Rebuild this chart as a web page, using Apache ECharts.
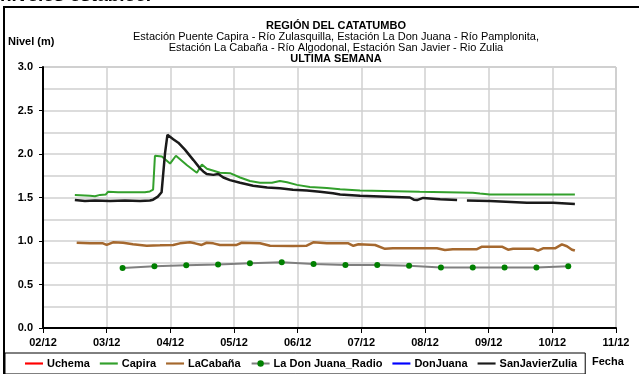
<!DOCTYPE html>
<html>
<head>
<meta charset="utf-8">
<script src="https://cdn.jsdelivr.net/npm/echarts@6/dist/echarts.min.js"></script>
<style>
  html, body { margin: 0; padding: 0; background: #fff; }
  #chart { width: 639px; height: 374px; }
</style>
</head>
<body>
<div id="chart"></div>
<script>
// Hours are counted from 02/12 00:00; levels are metres.
const dayLabels = ['02/12', '03/12', '04/12', '05/12', '06/12', '07/12', '08/12', '09/12', '10/12', '11/12'];
const levelTicks = [0, 0.5, 1.0, 1.5, 2.0, 2.5, 3.0];

const uchemaHours = [];
const uchemaLevels = [];

const capiraHours = [12, 17.7, 19.6, 21.5, 23.7, 24.5, 28.3, 38.4, 40.3, 41.5, 42.2, 44.8, 47.9, 50.1, 54.3, 58, 59.9, 61.8, 64, 66.7, 70.5, 74.3, 78, 81.8, 86.3, 89.3, 92, 95.7, 100.6, 107, 112, 119.5, 142, 162, 164.7, 168.5, 200.5];
const capiraLevels = [1.53, 1.52, 1.515, 1.53, 1.535, 1.565, 1.56, 1.56, 1.57, 1.59, 1.98, 1.97, 1.89, 1.98, 1.87, 1.785, 1.88, 1.83, 1.81, 1.785, 1.78, 1.73, 1.69, 1.67, 1.67, 1.69, 1.675, 1.645, 1.62, 1.61, 1.595, 1.58, 1.565, 1.555, 1.545, 1.535, 1.535];

const cabanaHours = [12.7, 17.7, 22.6, 24, 26.4, 30.2, 33.9, 39.1, 44.1, 49.1, 51.6, 55.4, 57.3, 59.8, 61.7, 64.2, 66.7, 73, 74.9, 81.8, 85.6, 94.2, 99.4, 101.9, 107, 115.1, 117, 118.9, 125.2, 128.9, 131.9, 148.5, 151.5, 154.5, 163.6, 165.5, 173, 175.3, 177.2, 184.7, 186.6, 188.5, 193, 195.6, 197.5, 199.4, 200.5];
const cabanaLevels = [0.98, 0.975, 0.973, 0.955, 0.985, 0.98, 0.962, 0.946, 0.95, 0.955, 0.973, 0.985, 0.973, 0.955, 0.98, 0.973, 0.955, 0.955, 0.98, 0.975, 0.946, 0.943, 0.946, 0.985, 0.975, 0.973, 0.945, 0.962, 0.954, 0.91, 0.916, 0.916, 0.897, 0.906, 0.906, 0.935, 0.935, 0.9, 0.912, 0.912, 0.89, 0.916, 0.916, 0.962, 0.94, 0.9, 0.89];

const radioHours = [30, 42, 54, 66, 78, 90, 102, 114, 126, 138, 150, 162, 174, 186, 198];
const radioLevels = [0.69, 0.71, 0.72, 0.73, 0.745, 0.755, 0.735, 0.725, 0.725, 0.715, 0.695, 0.695, 0.695, 0.695, 0.71];

const donJuanaHours = [];
const donJuanaLevels = [];

// null marks the hours with no reading at San Javier
const sanJavierHours = [12, 15.8, 19.6, 25.3, 30.9, 36.6, 40.3, 41.5, 43.3, 44.7, 46, 46.9, 47.6, 49.1, 51, 53.5, 56.7, 59.2, 60.4, 61.7, 64.2, 66.1, 68, 70.5, 74.3, 79.2, 84.5, 89.3, 94.2, 99.5, 104.4, 109.3, 112, 119.5, 129.7, 138.3, 139.8, 141, 143.3, 149.7, 156.1, 158, 159.8, 168.5, 182.4, 192.3, 200.5];
const sanJavierLevels = [1.47, 1.46, 1.465, 1.46, 1.465, 1.46, 1.465, 1.475, 1.51, 1.56, 2.01, 2.22, 2.24, 2.17, 2.13, 2.05, 1.93, 1.835, 1.80, 1.77, 1.76, 1.77, 1.73, 1.70, 1.67, 1.635, 1.615, 1.605, 1.59, 1.58, 1.565, 1.55, 1.535, 1.52, 1.51, 1.50, 1.475, 1.47, 1.495, 1.48, 1.47, null, 1.465, 1.46, 1.44, 1.44, 1.425];

function pairs(hours, levels) {
  return hours.map((h, i) => [h, levels[i] === null ? '-' : levels[i]]);
}

const FONT = 'Liberation Sans, Arial, sans-serif';
const LINE_ICON = 'path://M0,0H20V2.4H0Z';

const chart = echarts.init(document.getElementById('chart'), null, { renderer: 'canvas' });

function lineSeries(name, hours, levels, color, width) {
  return {
    name: name,
    type: 'line',
    data: pairs(hours, levels),
    symbol: 'none',
    connectNulls: false,
    lineStyle: { color: color, width: width },
    itemStyle: { color: color },
    animation: false
  };
}

chart.setOption({
  animation: false,
  backgroundColor: '#fff',
  title: [
    { text: 'REGIÓN DEL CATATUMBO', left: 331, top: 15, textAlign: 'center',
      textStyle: { fontFamily: FONT, fontSize: 11, fontWeight: 'bold', color: '#000' } },
    { text: 'Estación Puente Capira - Río Zulasquilla, Estación La Don Juana - Río Pamplonita,', left: 331, top: 26, textAlign: 'center',
      textStyle: { fontFamily: FONT, fontSize: 11, fontWeight: 'normal', color: '#000' } },
    { text: 'Estación La Cabaña - Río Algodonal, Estación San Javier - Rio Zulia', left: 331, top: 37, textAlign: 'center',
      textStyle: { fontFamily: FONT, fontSize: 11, fontWeight: 'normal', color: '#000' } },
    { text: 'ULTIMA SEMANA', left: 331, top: 48, textAlign: 'center',
      textStyle: { fontFamily: FONT, fontSize: 11, fontWeight: 'bold', color: '#000' } }
  ],
  graphic: [
    { type: 'text', left: 0, top: -14, style: { text: 'niveles establec.', font: 'bold 19px ' + FONT, fill: '#000' } },
    { type: 'rect', shape: { x: 4, y: 7, width: 660, height: 400 }, style: { fill: 'none', stroke: '#000', lineWidth: 2 }, silent: true },
    { type: 'text', left: 8, top: 36, style: { text: 'Nivel (m)', font: 'bold 11px ' + FONT, fill: '#000' } },
    { type: 'text', left: 592, top: 356, style: { text: 'Fecha', font: 'bold 11px ' + FONT, fill: '#000' } }
  ],
  grid: {
    left: 43, right: 23, top: 67, bottom: 46,
    show: true, borderColor: '#a0a0a0', borderWidth: 1, backgroundColor: 'transparent'
  },
  legend: {
    left: 5, top: 353,
    itemWidth: 18, itemHeight: 8, itemGap: 10,
    padding: [5, 8, 5, 20],
    borderColor: '#000', borderWidth: 1,
    textStyle: { fontFamily: FONT, fontSize: 11, fontWeight: 'bold', color: '#000', padding: [0, 0, 0, -1] },
    data: [
      { name: 'Uchema', icon: LINE_ICON },
      { name: 'Capira', icon: LINE_ICON },
      { name: 'LaCabaña', icon: LINE_ICON },
      { name: 'La Don Juana_Radio', lineStyle: { color: '#7f7f7f', width: 2 } },
      { name: 'DonJuana', icon: LINE_ICON },
      { name: 'SanJavierZulia', icon: LINE_ICON }
    ]
  },
  xAxis: {
    type: 'value', min: 0, max: 216, interval: 24,
    axisLine: { lineStyle: { color: '#000', width: 2 } },
    axisTick: { show: true, length: 5, lineStyle: { color: '#000', width: 1 } },
    axisLabel: {
      margin: 9, fontFamily: FONT, fontSize: 11, fontWeight: 'bold', color: '#000',
      formatter: v => dayLabels[Math.round(v / 24)]
    },
    splitLine: { show: true, lineStyle: { color: '#d0d0d0', width: 1.5 } }
  },
  yAxis: {
    type: 'value', min: levelTicks[0], max: levelTicks[levelTicks.length - 1], interval: 0.5,
    axisLine: { show: true, lineStyle: { color: '#000', width: 2 } },
    axisTick: { show: true, length: 4, lineStyle: { color: '#000', width: 1 } },
    axisLabel: {
      margin: 10, fontFamily: FONT, fontSize: 11, fontWeight: 'bold', color: '#000',
      formatter: v => v.toFixed(1)
    },
    splitLine: { show: true, lineStyle: { color: '#d0d0d0', width: 1.5 } },
    minorTick: { show: false, splitNumber: 2 },
    minorSplitLine: { show: true, lineStyle: { color: '#d0d0d0', width: 1.5 } }
  },
  series: [
    lineSeries('Uchema', uchemaHours, uchemaLevels, '#ff0000', 1.5),
    lineSeries('Capira', capiraHours, capiraLevels, '#33a02c', 2),
    lineSeries('LaCabaña', cabanaHours, cabanaLevels, '#a5682e', 2.5),
    {
      name: 'La Don Juana_Radio',
      type: 'line',
      data: pairs(radioHours, radioLevels),
      symbol: 'circle', symbolSize: 6, showSymbol: true,
      lineStyle: { color: '#7f7f7f', width: 2 },
      itemStyle: { color: '#008000' },
      animation: false
    },
    lineSeries('DonJuana', donJuanaHours, donJuanaLevels, '#0000ff', 1.5),
    lineSeries('SanJavierZulia', sanJavierHours, sanJavierLevels, '#1a1a1a', 2.5)
  ]
});
</script>
</body>
</html>
